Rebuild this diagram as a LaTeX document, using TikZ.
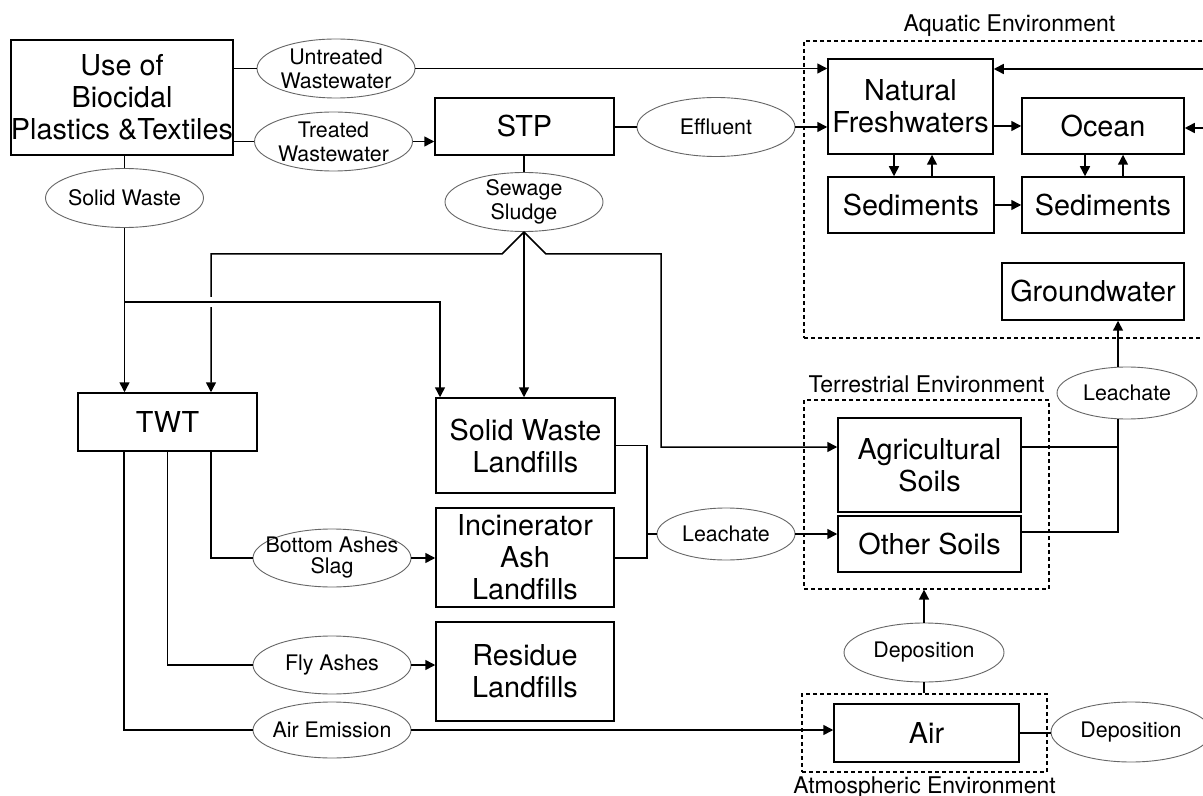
\documentclass[tikz,border=0pt]{standalone}
\usepackage{fontspec}
\setmainfont{TeX Gyre Heros}
\usetikzlibrary{arrows.meta, positioning, calc, shapes.geometric}

\begin{document}
\begin{tikzpicture}[
    x=0.5pt, y=-0.5pt,
    box/.style={draw, line width=0.75pt, align=center, inner sep=0pt, font=\fontsize{14.4}{16}\selectfont},
    flow/.style={ellipse, draw=black!60, line width=0.45pt, fill=white, align=center, inner sep=-20pt,
      minimum width=79pt, minimum height=29.5pt, font=\fontsize{10.7}{12}\selectfont},
    env/.style={draw, line width=0.6pt, dash pattern=on 2pt off 1.5pt, inner sep=0pt},
    envtext/.style={anchor=base, inner sep=0pt, font=\fontsize{11.5}{13}\selectfont},
    arrow/.style={-{Triangle[length=5pt,width=5pt]}, line width=0.75pt},
    wire/.style={line width=0.75pt}
  ]
  \useasboundingbox (0,0) rectangle (1203,796);
  \fill[white] (0,0) rectangle (1203,796);
  \clip (0,0) rectangle (1203,796);

  % sources and treatment
  \node[box, minimum width=110pt, minimum height=57.5pt] (use) at (122,97.5) {Use of\\Biocidal\\Plastics \&Textiles};
  \node[flow] (untreated) at (336,68.5) {Untreated\\Wastewater};
  \node[flow] (treated) at (333.5,141.5) {Treated\\Wastewater};
  \node[flow] (solid) at (124.5,198) {Solid Waste};
  \node[box, minimum width=89.5pt, minimum height=28.5pt] (stp) at (524.5,126.5) {STP};
  \node[flow] (effluent) at (716,127) {Effluent};
  \node[flow] (sludge) at (524,202) {Sewage\\Sludge};

  % aquatic environment
  \node[env, minimum width=205.5pt, minimum height=148.5pt] (aquatic) at (1009.5,189.5) {};
  \node[envtext] (aqtitle) at ([yshift=4.5pt]aquatic.north) {Aquatic Environment};
  \node[box, minimum width=82.5pt, minimum height=47.5pt] (fresh) at (910.5,106.5) {Natural\\Freshwaters};
  \node[box, minimum width=81pt, minimum height=28pt] (ocean) at (1103,126) {Ocean};
  \node[box, minimum width=83pt, minimum height=28pt] (sedfresh) at (911,205) {Sediments};
  \node[box, minimum width=81pt, minimum height=28pt] (sedocean) at (1103,205) {Sediments};
  \node[box, minimum width=91pt, minimum height=28.5pt] (ground) at (1093,291.5) {Groundwater};

  % terrestrial environment
  \node[env, minimum width=122.5pt, minimum height=94.5pt] (terr) at (926.5,494.5) {};
  \node[envtext] (terrtitle) at ([yshift=3.5pt]terr.north) {Terrestrial Environment};
  \node[box, minimum width=91.5pt, minimum height=47pt] (agri) at (929.5,465) {Agricultural\\Soils};
  \node[box, minimum width=91.5pt, minimum height=28pt] (other) at (929.5,544) {Other Soils};
  \node[flow, minimum width=70pt, minimum height=26pt] (leachgw) at (1127,393) {Leachate};

  % atmospheric environment
  \node[env, minimum width=122.5pt, minimum height=39pt] (atmo) at (924.5,733) {};
  \node[envtext] (atmotitle) at ([yshift=-10.5pt]atmo.south) {Atmospheric Environment};
  \node[box, minimum width=92.5pt, minimum height=29pt] (air) at (926.5,733) {Air};
  \node[flow, minimum width=80pt] (depsoil) at (924,652.5) {Deposition};
  \node[flow, minimum width=80pt, minimum height=30pt] (depsea) at (1131,732) {Deposition};

  % waste handling
  \node[box, minimum width=89.5pt, minimum height=29pt] (twt) at (167.5,422) {TWT};
  \node[box, minimum width=89.5pt, minimum height=47.5pt] (swl) at (525.5,445.5) {Solid Waste\\Landfills};
  \node[box, minimum width=89pt, minimum height=49.5pt] (ial) at (525,557.5) {Incinerator\\Ash\\Landfills};
  \node[box, minimum width=89pt, minimum height=49.5pt] (rl) at (525,671.5) {Residue\\Landfills};
  \node[flow, minimum height=29pt, font=\fontsize{10.7}{10.5}\selectfont] (bottom) at (332,558) {Bottom Ashes\\Slag};
  \node[flow, minimum height=29pt] (fly) at (332,665) {Fly Ashes};
  \node[flow, minimum height=28pt] (emission) at (332,730) {Air Emission};
  \node[flow, minimum width=69pt, minimum height=26pt] (leachland) at (726,534) {Leachate};

  % water paths
  \draw[wire] (use.east |- untreated.west) -- (untreated.west);
  \draw[arrow] (untreated.east) -- (untreated.east -| fresh.west);
  \draw[wire] (use.east |- treated.west) -- (treated.west);
  \draw[arrow] (treated.east) -- (treated.east -| stp.west);
  \draw[wire] (stp.east |- effluent.west) -- (effluent.west);
  \draw[arrow] (effluent.east) -- (effluent.east -| fresh.west);
  \draw[arrow] (fresh.east |- ocean.west) -- (ocean.west);
  \draw[arrow] ([xshift=-8.25pt]fresh.south) -- ([xshift=-8.25pt]fresh.south |- sedfresh.north);
  \draw[arrow] ([xshift=10.5pt]sedfresh.north) -- ([xshift=10.5pt]sedfresh.north |- fresh.south);
  \draw[arrow] ([xshift=-9pt]ocean.south) -- ([xshift=-9pt]ocean.south |- sedocean.north);
  \draw[arrow] ([xshift=10pt]sedocean.north) -- ([xshift=10pt]sedocean.north |- ocean.south);
  \draw[arrow] (sedfresh.east) -- (sedocean.west);
  \coordinate (rimfresh) at (1215,69);
  \coordinate (rimocean) at (1215,128);
  \draw[arrow] (rimfresh) -- (rimfresh -| fresh.east);
  \draw[arrow] (rimocean) -- (rimocean -| ocean.east);

  % solids and sludge
  \draw[wire] (solid.north |- use.south) -- (solid.north);
  \draw[arrow] (solid.south) -- (solid.south |- twt.north);
  \draw[wire] (sludge.north |- stp.south) -- (sludge.north);
  \coordinate (solidsplit) at (124.5,302);
  \coordinate (fanleft) at (502,254);
  \coordinate (fanright) at (546,254);
  \coordinate (soilbend) at (661,447);
  \draw[arrow] (sludge.south) -- (fanleft) -| ([xshift=21.75pt]twt.north);
  \draw[arrow] (sludge.south) -- (sludge.south |- swl.north);
  \draw[arrow] (sludge.south) -- (fanright) -| (soilbend) -- (soilbend -| agri.west);
  % hop where the two lines cross
  \fill[white] (206,297) rectangle (216,307);
  \draw[arrow] (solidsplit) -| ([xshift=-42.75pt]swl.north);

  % thermal treatment outputs
  \draw[wire] ([xshift=-21.75pt]twt.south) |- (emission.west);
  \draw[wire] (twt.south) |- (fly.west);
  \draw[wire] ([xshift=21.75pt]twt.south) |- (bottom.west);
  \draw[arrow] (bottom.east) -- (bottom.east -| ial.west);
  \draw[arrow] (fly.east) -- (fly.east -| rl.west);
  \draw[arrow] (emission.east) -- (emission.east -| air.west);

  % leachate
  \coordinate (leachbus) at (647,558);
  \draw[wire] (swl.east) -| (leachbus) -- (leachbus -| ial.east);
  \draw[wire] (leachbus |- leachland.west) -- (leachland.west);
  \draw[arrow] (leachland.east) -- (leachland.east -| other.west);
  \coordinate (gwin) at ([xshift=12.5pt]ground.south);
  \draw[wire] ([yshift=9pt]agri.east) -| (gwin |- leachgw.south);
  \draw[wire] ([yshift=6pt]other.east) -| (gwin |- leachgw.south);
  \draw[arrow] (gwin |- leachgw.north) -- (gwin);

  % atmosphere
  \draw[wire] (depsoil.south |- atmo.north) -- (depsoil.south);
  \draw[arrow] (depsoil.north) -- (depsoil.north |- terr.south);
  \draw[wire] (air.east) -- (air.east -| depsea.west);
\end{tikzpicture}
\end{document}
